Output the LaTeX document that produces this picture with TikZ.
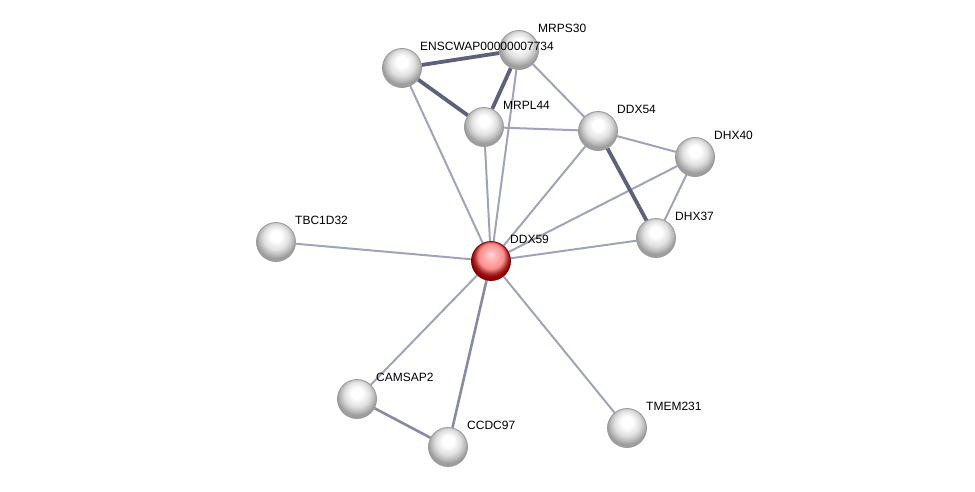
\documentclass[tikz,border=0pt]{standalone}
\usepackage{fontspec}
\setmainfont{Liberation Sans}
\usetikzlibrary{backgrounds,calc}
\pgfdeclareradialshading{greyball}{\pgfpoint{0bp}{9bp}}{color(0bp)=(white); color(7bp)=(white); color(16bp)=(black!12); color(22bp)=(black!28); color(25bp)=(black!38); color(50bp)=(black!38)}
\pgfdeclareradialshading{redball}{\pgfpoint{0bp}{9bp}}{color(0bp)=(red!15); color(7bp)=(red!30); color(16bp)=(red!45); color(22bp)=(red!55!black!85); color(25bp)=(red!60!black); color(50bp)=(red!60!black)}

\begin{document}
\begin{tikzpicture}[x=1pt,y=-1pt]
\tikzstyle{prot}=[circle, minimum size = 39pt, inner sep=0pt, draw=black!40, line width=0.8pt, shading=greyball]
\tikzstyle{query}=[prot, shading=redball, draw=red!45!black]
\tikzstyle{lbl}=[anchor=west, inner sep=0pt, font=\fontsize{12}{14}\selectfont]
\tikzstyle{weak}=[line width=2pt, draw={rgb,255:red,160;green,164;blue,184}]
\tikzstyle{mid}=[line width=2.6pt, draw={rgb,255:red,134;green,139;blue,164}]
\tikzstyle{strong}=[line width=3.8pt, draw={rgb,255:red,92;green,98;blue,124}]

  \useasboundingbox (0,0) rectangle (975,492);

  \node[prot]  (enscwap) at (402,68)  {};
  \node[prot]  (mrps30)  at (519,50)  {};
  \node[prot]  (mrpl44)  at (484,127) {};
  \node[prot]  (ddx54)   at (598,131) {};
  \node[prot]  (dhx40)   at (695,157) {};
  \node[prot]  (dhx37)   at (656,238) {};
  \node[prot]  (tbc1d32) at (276,242) {};
  \node[query] (ddx59)   at (491,261) {};
  \node[prot]  (camsap2) at (357,399) {};
  \node[prot]  (ccdc97)  at (448,447) {};
  \node[prot]  (tmem231) at (627,428) {};

  \node[lbl] (enscwaplbl) at ([shift={(18,-22)}]enscwap) {ENSCWAP00000007734};
  \node[lbl] (mrps30lbl)  at ([shift={(19,-22)}]mrps30)  {MRPS30};
  \node[lbl] (mrpl44lbl)  at ([shift={(19,-22)}]mrpl44)  {MRPL44};
  \node[lbl] (ddx54lbl)   at ([shift={(19,-22)}]ddx54)   {DDX54};
  \node[lbl] (dhx40lbl)   at ([shift={(19,-22)}]dhx40)   {DHX40};
  \node[lbl] (dhx37lbl)   at ([shift={(19,-22)}]dhx37)   {DHX37};
  \node[lbl] (tbc1d32lbl) at ([shift={(19,-22)}]tbc1d32) {TBC1D32};
  \node[lbl] (ddx59lbl)   at ([shift={(19,-22)}]ddx59)   {DDX59};
  \node[lbl] (camsap2lbl) at ([shift={(19,-22)}]camsap2) {CAMSAP2};
  \node[lbl] (ccdc97lbl)  at ([shift={(19,-22)}]ccdc97)  {CCDC97};
  \node[lbl] (tmem231lbl) at ([shift={(19,-22)}]tmem231) {TMEM231};

  \begin{pgfonlayer}{background}
  % weak links
  \path (mrps30)  edge [weak] (ddx54);
  \path (mrpl44)  edge [weak] (ddx54);
  \path (enscwap) edge [weak] (ddx59);
  \path (mrps30)  edge [weak] (ddx59);
  \path (mrpl44)  edge [weak] (ddx59);
  \path (ddx54)   edge [weak] (ddx59);
  \path (ddx54)   edge [weak] (dhx40);
  \path (dhx40)   edge [weak] (dhx37);
  \path (dhx40)   edge [weak] (ddx59);
  \path (dhx37)   edge [weak] (ddx59);
  \path (tbc1d32) edge [weak] (ddx59);
  \path (camsap2) edge [weak] (ddx59);
  \path (tmem231) edge [weak] (ddx59);
  % medium links
  \path (ccdc97)  edge [mid] (ddx59);
  \path (camsap2) edge [mid] (ccdc97);
  % strong links
  \path (enscwap) edge [strong] (mrps30);
  \path (enscwap) edge [strong] (mrpl44);
  \path (mrps30)  edge [strong] (mrpl44);
  \path (ddx54)   edge [strong] (dhx37);
  \end{pgfonlayer}

\end{tikzpicture}
\end{document}
